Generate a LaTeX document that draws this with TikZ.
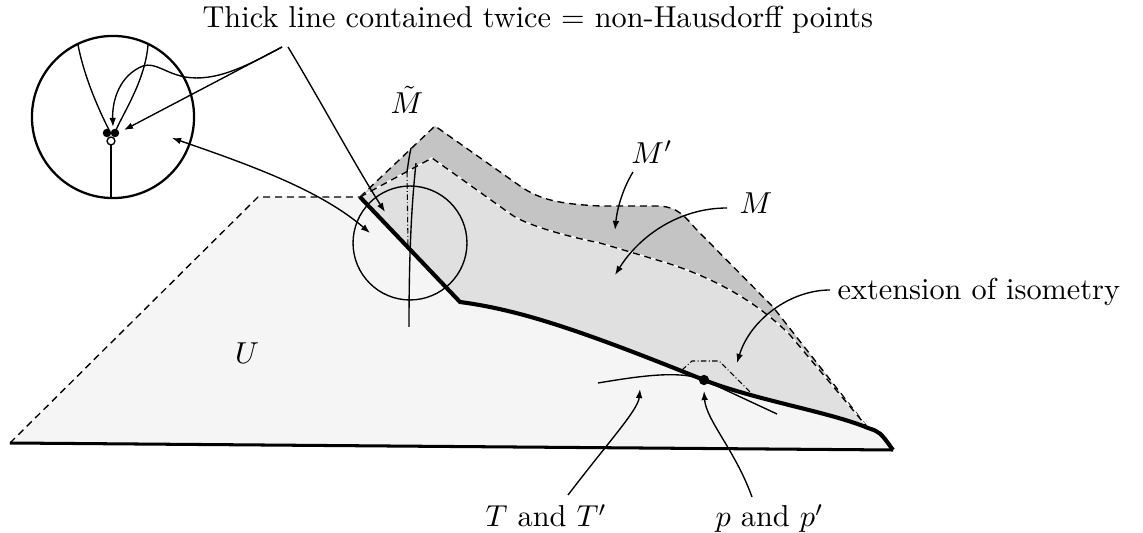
\documentclass[tikz,border=0pt]{standalone}
\usetikzlibrary{arrows.meta}
\definecolor{ufill}{HTML}{F5F5F5}
\definecolor{mfill}{HTML}{E0E0E0}
\definecolor{mpfill}{HTML}{C4C4C4}
\begin{document}
\begin{tikzpicture}[x=0.33pt,y=-0.33pt,
  thinline/.style={line width=0.45pt},
  thickline/.style={line width=1.35pt, line join=miter},
  bottomline/.style={line width=1.0pt},
  dsh/.style={line width=0.45pt, dash pattern=on 2.3pt off 1.6pt},
  dashdot/.style={line width=0.35pt, dash pattern=on 1.8pt off 0.8pt on 0.3pt off 0.8pt},
  arr/.style={line width=0.45pt, -{Latex[length=3pt,width=2.2pt]}},
  darr/.style={line width=0.45pt, {Latex[length=3pt,width=2.2pt]}-{Latex[length=3pt,width=2.2pt]}},
  lbl/.style={inner sep=0pt}
]
\useasboundingbox (0,0) rectangle (1143,533);
% key points
\coordinate (bl) at (10,443);
\coordinate (ul) at (258,197);
\coordinate (k) at (360,197);
\coordinate (c) at (460,302);
\coordinate (p) at (704,380);
\coordinate (e) at (868,428);
\coordinate (br) at (893,450);

% U region
\fill[ufill] (bl) -- (ul) -- (k) -- (c) .. controls (520,310) and (580,330) .. (p)
  .. controls (755,400) and (830,412) .. (e) .. controls (880,432) .. (br) -- cycle;
% M' region
\fill[mpfill] (k) -- (435,126) -- (520,186) .. controls (540,200) and (560,204) .. (600,206)
  -- (655,206) .. controls (672,206) and (680,210) .. (695,228) -- (773,307) -- (e)
  .. controls (830,412) and (755,400) .. (p) .. controls (580,330) and (520,310) .. (c) -- cycle;
% M region
\fill[mfill] (k) -- (432,158) -- (512,215) .. controls (525,224) and (560,235) .. (600,243)
  -- (667,263) .. controls (720,280) and (760,305) .. (790,335) -- (e)
  .. controls (830,412) and (755,400) .. (p) .. controls (580,330) and (520,310) .. (c) -- cycle;

% boundaries
\draw[dsh] (bl) -- (ul) -- (k);
\draw[dsh] (k) -- (435,126) -- (520,186) .. controls (540,200) and (560,204) .. (600,206)
  -- (655,206) .. controls (672,206) and (680,210) .. (695,228) -- (773,307) -- (e);
\draw[white, line width=0.45pt] (k) -- (432,158) -- (512,215) .. controls (525,224) and (560,235) .. (600,243)
  -- (667,263) .. controls (720,280) and (760,305) .. (790,335) -- (e);
\draw[dsh] (k) -- (432,158) -- (512,215) .. controls (525,224) and (560,235) .. (600,243)
  -- (667,263) .. controls (720,280) and (760,305) .. (790,335) -- (e);

% small circle and lines in it
\node[circle, draw, thinline, minimum size=37.6pt, inner sep=0pt] (lens) at (410,243) {};
\draw[thinline] (411,148) .. controls (409,158) .. (407,172);
\draw[dashdot] (407,172) -- (408,247);
\draw[thinline] (416,163) .. controls (411,210) and (409,260) .. (409,327);

% thick lines
\draw[thickline] (k) -- (c) .. controls (520,310) and (580,330) .. (p)
  .. controls (755,400) and (830,412) .. (e) .. controls (880,432) .. (br);
\draw[bottomline] (bl) -- (br);

% tangent T and extension
\draw[thinline] (598,383) .. controls (640,376) and (680,370) .. (p) -- (777,414);
\draw[dashdot] (682,370) -- (692,361) -- (719,361) -- (750,392);
\fill (p) circle[radius=1.7pt];

% inset circle
\node[circle, draw, line width=0.75pt, minimum size=53.5pt, inner sep=0pt] (inset) at (113,117) {};
\draw[thinline] (78,45) .. controls (85,80) and (100,112) .. (109,130);
\draw[thinline] (148,45) .. controls (145,80) and (125,110) .. (116,130);
\draw[thinline] (111,145) -- (111,198);
\fill (107,133) circle[radius=1.4pt];
\fill (115,133) circle[radius=1.4pt];
\draw[thinline, fill=white] (111,141) circle[radius=1.3pt];

% labels
\node[lbl, anchor=base west] (top) at (202,28) {Thick line contained twice $=$ non-Hausdorff points};
\node[lbl] (mt) at (407,100) {$\tilde M$};
\node[lbl] (mp) at (652,152) {$M'$};
\node[lbl] (m) at (756,203) {$M$};
\node[lbl, anchor=base west] (ext) at (837,300) {extension of isometry};
\node[lbl] (u) at (247,353) {$U$};
\node[lbl, anchor=base west] (tl) at (485,527) {$T$ and $T'$};
\node[lbl, anchor=base west] (pl) at (715,527) {$p$ and $p'$};

\coordinate (s1) at (282,47);
\coordinate (s2) at (288,47);
% arrows
\draw[arr] (s1) -- (124,130);
\draw[arr] (s1) .. controls (245,67) and (215,82) .. (185,77) .. controls (165,73) and (155,62) .. (143,66)
  .. controls (120,75) and (112,100) .. (113,127);
\draw[arr] (s2) .. controls (320,100) and (355,165) .. (385,212);
\draw[darr] (172,138) .. controls (250,165) and (320,190) .. (370,233);
\draw[arr] (633,172) .. controls (622,190) and (617,210) .. (615,230);
\draw[arr] (727,208) .. controls (680,208) and (640,235) .. (615,275);
\draw[arr] (830,290) .. controls (790,290) and (750,320) .. (737,363);
\draw[arr] (568,495) .. controls (610,440) and (638,410) .. (640,389);
\draw[arr] (752,497) .. controls (735,450) and (706,420) .. (704,391);
\end{tikzpicture}
\end{document}
